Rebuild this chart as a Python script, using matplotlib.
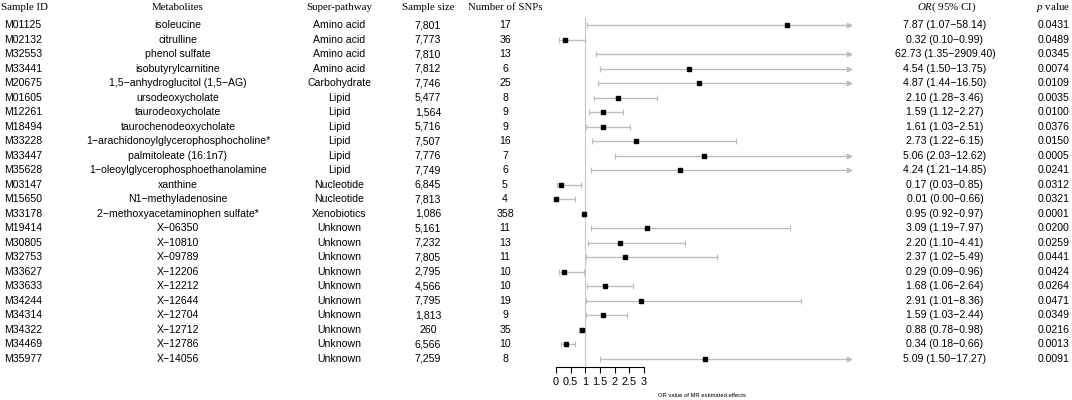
import matplotlib
matplotlib.use("Agg")
import numpy as np
import matplotlib.pyplot as plt
import matplotlib.transforms as mtransforms

# ---- table data ----
sample_ids = ["M01125", "M02132", "M32553", "M33441", "M20675", "M01605",
              "M12261", "M18494", "M33228", "M33447", "M35628", "M03147",
              "M15650", "M33178", "M19414", "M30805", "M32753", "M33627",
              "M33633", "M34244", "M34314", "M34322", "M34469", "M35977"]
metabolites = ["isoleucine", "citrulline", "phenol sulfate", "isobutyrylcarnitine",
               "1,5\u2212anhydroglucitol (1,5\u2212AG)", "ursodeoxycholate",
               "taurodeoxycholate", "taurochenodeoxycholate",
               "1\u2212arachidonoylglycerophosphocholine*", "palmitoleate (16:1n7)",
               "1\u2212oleoylglycerophosphoethanolamine", "xanthine",
               "N1\u2212methyladenosine", "2\u2212methoxyacetaminophen sulfate*",
               "X\u221206350", "X\u221210810", "X\u221209789", "X\u221212206",
               "X\u221212212", "X\u221212644", "X\u221212704", "X\u221212712",
               "X\u221212786", "X\u221214056"]
pathways = ["Amino acid"] * 4 + ["Carbohydrate"] + ["Lipid"] * 6 + \
           ["Nucleotide"] * 2 + ["Xenobiotics"] + ["Unknown"] * 10
sample_sizes = [7801, 7773, 7810, 7812, 7746, 5477, 1564, 5716, 7507, 7776, 7749, 6845,
                7813, 1086, 5161, 7232, 7805, 2795, 4566, 7795, 1813, 260, 6566, 7259]
n_snps = [17, 36, 13, 6, 25, 8, 9, 9, 16, 7, 6, 5, 4, 358, 11, 13, 11, 10, 10, 19, 9, 35, 10, 8]
or_vals = [7.87, 0.32, 62.73, 4.54, 4.87, 2.10, 1.59, 1.61, 2.73, 5.06, 4.24, 0.17,
           0.01, 0.95, 3.09, 2.20, 2.37, 0.29, 1.68, 2.91, 1.59, 0.88, 0.34, 5.09]
ci_low = [1.07, 0.10, 1.35, 1.50, 1.44, 1.28, 1.12, 1.03, 1.22, 2.03, 1.21, 0.03,
          0.00, 0.92, 1.19, 1.10, 1.02, 0.09, 1.06, 1.01, 1.03, 0.78, 0.18, 1.50]
ci_high = [58.14, 0.99, 2909.40, 13.75, 16.50, 3.46, 2.27, 2.51, 6.15, 12.62, 14.85, 0.85,
           0.66, 0.97, 7.97, 4.41, 5.49, 0.96, 2.64, 8.36, 2.44, 0.98, 0.66, 17.27]
p_vals = [0.0431, 0.0489, 0.0345, 0.0074, 0.0109, 0.0035, 0.0100, 0.0376, 0.0150, 0.0005,
          0.0241, 0.0312, 0.0321, 0.0001, 0.0200, 0.0259, 0.0441, 0.0424, 0.0264, 0.0471,
          0.0349, 0.0216, 0.0013, 0.0091]
x_ticks = [0, 0.5, 1, 1.5, 2, 2.5, 3]

plt.rcParams["mathtext.fontset"] = "custom"
plt.rcParams["mathtext.rm"] = "Liberation Serif"
plt.rcParams["mathtext.it"] = "Liberation Serif:italic"

W, H = 1072, 400
BODY = dict(fontsize=7.6, family="Liberation Sans")
HEAD = dict(fontsize=7.8, family="Liberation Serif")
ci_col = "#BDBDBD"
x_max = 10
pitch, first_row, axis_y = 14.52, 25.0, 366.7   # pixels from top

fig = plt.figure(figsize=(W / 100, H / 100), dpi=100)
ax = fig.add_axes([556 / W, 1 - axis_y / H, (849 - 556) / W, axis_y / H])
ax.set_xlim(0, x_max)
ax.set_ylim((axis_y - first_row) / pitch, -first_row / pitch)

trans = mtransforms.blended_transform_factory(fig.transFigure, ax.transData)
head_y = (7.3 - first_row) / pitch


def column(xpx, header, values, ha="center", hx=None):
    hx = xpx if hx is None else hx
    ax.text(hx / W, head_y, header, transform=trans, ha=ha, va="center", **HEAD)
    for i, v in enumerate(values):
        ax.text(xpx / W, i, v, transform=trans, ha=ha, va="center", **BODY)


column(4, "Sample ID", sample_ids, ha="left", hx=1)
column(178, "Metabolites", metabolites)
column(339, "Super-pathway", pathways)
column(428, "Sample size", [f"{n:,}" for n in sample_sizes])
column(505, "Number of SNPs", [str(n) for n in n_snps])
column(945, r"$\mathit{OR}$( 95% CI)",
       [f"{o:.2f} ({lo:.2f}\u2212{hi:.2f})" for o, lo, hi in zip(or_vals, ci_low, ci_high)],
       hx=947)
column(1054, r"$\mathit{p}$ value", [f"{p:.4f}" for p in p_vals], hx=1053)

# reference line at OR = 1
ax.plot([1, 1], [-0.48, ax.get_ylim()[0]], color="#C8C8C8", lw=0.8, clip_on=False, zorder=1)

# confidence intervals and point estimates
for i, (o, lo, hi) in enumerate(zip(or_vals, ci_low, ci_high)):
    right = min(hi, x_max)
    ax.plot([lo, right], [i, i], color=ci_col, lw=1.0, clip_on=False, zorder=2)
    ax.plot([lo], [i], marker="|", ms=4, mew=0.8, color=ci_col, clip_on=False, zorder=2)
    if hi > x_max:
        ax.plot([x_max], [i], marker=">", ms=3.2, color=ci_col, clip_on=False, zorder=2)
    else:
        ax.plot([hi], [i], marker="|", ms=4, mew=0.8, color=ci_col, clip_on=False, zorder=2)
    if o <= x_max:
        ax.plot([o], [i], marker="s", ms=3.4, color="black", clip_on=False, zorder=3)

for s in ["top", "right", "left"]:
    ax.spines[s].set_visible(False)
ax.spines["bottom"].set_bounds(x_ticks[0], x_ticks[-1])
ax.spines["bottom"].set_linewidth(0.8)
ax.set_yticks([])
ax.set_xticks(x_ticks)
ax.set_xticklabels([f"{t:g}" for t in x_ticks], fontsize=7.9, family="Liberation Sans")
ax.tick_params(axis="x", direction="out", length=4.3, width=0.8, pad=3)
ax.patch.set_visible(False)

fig.text(702 / W, 1 - 395.7 / H, "OR value of MR estimated effects",
         ha="center", va="center", fontsize=4.2, family="Liberation Sans")

fig.savefig("out.png", dpi=100)
